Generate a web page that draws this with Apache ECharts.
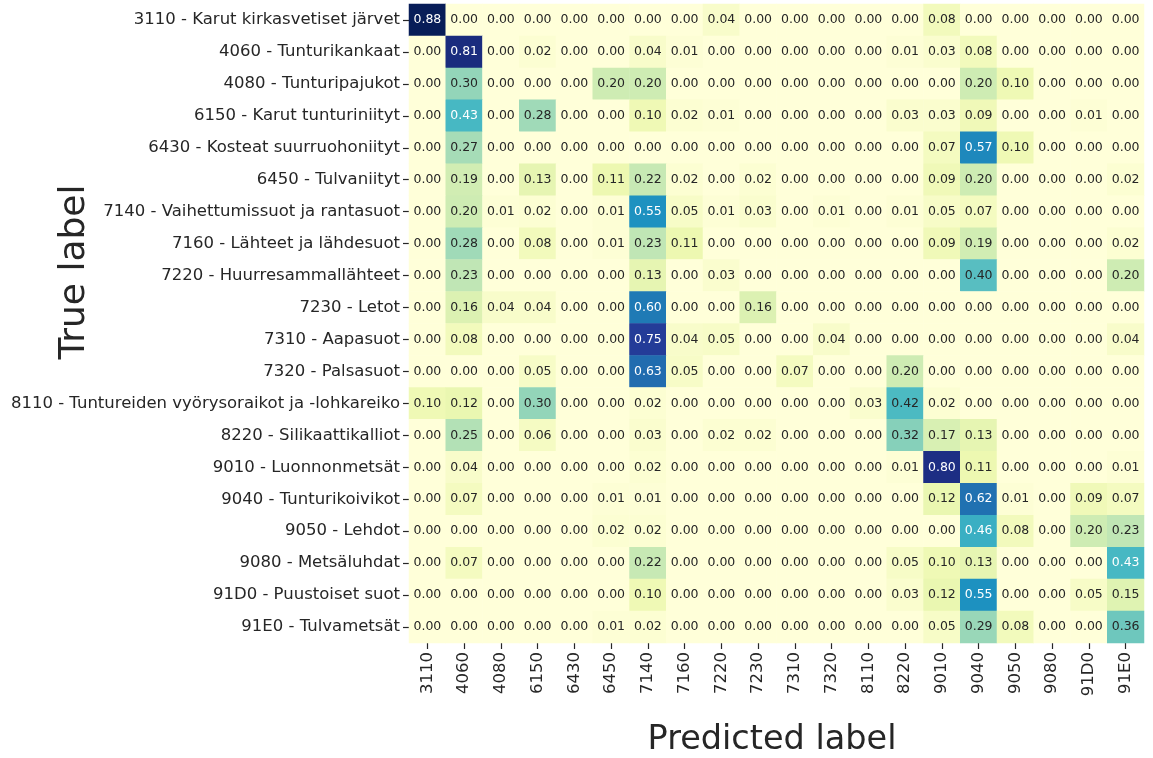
<!DOCTYPE html>
<html>
<head>
<meta charset="utf-8">
<script src="https://cdn.jsdelivr.net/npm/echarts@6/dist/echarts.min.js"></script>
<style>
  html, body { margin: 0; padding: 0; background: #fff; }
  #chart { width: 1153px; height: 758px; }
</style>
</head>
<body>
<div id="chart"></div>
<script>
// Predicted class codes (columns)
const predictedLabels = ['3110','4060','4080','6150','6430','6450','7140','7160','7220','7230',
                         '7310','7320','8110','8220','9010','9040','9050','9080','91D0','91E0'];

// True habitat classes (rows)
const trueLabels = [
  '3110 - Karut kirkasvetiset järvet',
  '4060 - Tunturikankaat',
  '4080 - Tunturipajukot',
  '6150 - Karut tunturiniityt',
  '6430 - Kosteat suurruohoniityt',
  '6450 - Tulvaniityt',
  '7140 - Vaihettumissuot ja rantasuot',
  '7160 - Lähteet ja lähdesuot',
  '7220 - Huurresammallähteet',
  '7230 - Letot',
  '7310 - Aapasuot',
  '7320 - Palsasuot',
  '8110 - Tuntureiden vyörysoraikot ja -lohkareiko',
  '8220 - Silikaattikalliot',
  '9010 - Luonnonmetsät',
  '9040 - Tunturikoivikot',
  '9050 - Lehdot',
  '9080 - Metsäluhdat',
  '91D0 - Puustoiset suot',
  '91E0 - Tulvametsät'
];

// Row-normalised confusion matrix, one array per true class
const row3110 = [0.88,0.00,0.00,0.00,0.00,0.00,0.00,0.00,0.04,0.00,0.00,0.00,0.00,0.00,0.08,0.00,0.00,0.00,0.00,0.00];
const row4060 = [0.00,0.81,0.00,0.02,0.00,0.00,0.04,0.01,0.00,0.00,0.00,0.00,0.00,0.01,0.03,0.08,0.00,0.00,0.00,0.00];
const row4080 = [0.00,0.30,0.00,0.00,0.00,0.20,0.20,0.00,0.00,0.00,0.00,0.00,0.00,0.00,0.00,0.20,0.10,0.00,0.00,0.00];
const row6150 = [0.00,0.43,0.00,0.28,0.00,0.00,0.10,0.02,0.01,0.00,0.00,0.00,0.00,0.03,0.03,0.09,0.00,0.00,0.01,0.00];
const row6430 = [0.00,0.27,0.00,0.00,0.00,0.00,0.00,0.00,0.00,0.00,0.00,0.00,0.00,0.00,0.07,0.57,0.10,0.00,0.00,0.00];
const row6450 = [0.00,0.19,0.00,0.13,0.00,0.11,0.22,0.02,0.00,0.02,0.00,0.00,0.00,0.00,0.09,0.20,0.00,0.00,0.00,0.02];
const row7140 = [0.00,0.20,0.01,0.02,0.00,0.01,0.55,0.05,0.01,0.03,0.00,0.01,0.00,0.01,0.05,0.07,0.00,0.00,0.00,0.00];
const row7160 = [0.00,0.28,0.00,0.08,0.00,0.01,0.23,0.11,0.00,0.00,0.00,0.00,0.00,0.00,0.09,0.19,0.00,0.00,0.00,0.02];
const row7220 = [0.00,0.23,0.00,0.00,0.00,0.00,0.13,0.00,0.03,0.00,0.00,0.00,0.00,0.00,0.00,0.40,0.00,0.00,0.00,0.20];
const row7230 = [0.00,0.16,0.04,0.04,0.00,0.00,0.60,0.00,0.00,0.16,0.00,0.00,0.00,0.00,0.00,0.00,0.00,0.00,0.00,0.00];
const row7310 = [0.00,0.08,0.00,0.00,0.00,0.00,0.75,0.04,0.05,0.00,0.00,0.04,0.00,0.00,0.00,0.00,0.00,0.00,0.00,0.04];
const row7320 = [0.00,0.00,0.00,0.05,0.00,0.00,0.63,0.05,0.00,0.00,0.07,0.00,0.00,0.20,0.00,0.00,0.00,0.00,0.00,0.00];
const row8110 = [0.10,0.12,0.00,0.30,0.00,0.00,0.02,0.00,0.00,0.00,0.00,0.00,0.03,0.42,0.02,0.00,0.00,0.00,0.00,0.00];
const row8220 = [0.00,0.25,0.00,0.06,0.00,0.00,0.03,0.00,0.02,0.02,0.00,0.00,0.00,0.32,0.17,0.13,0.00,0.00,0.00,0.00];
const row9010 = [0.00,0.04,0.00,0.00,0.00,0.00,0.02,0.00,0.00,0.00,0.00,0.00,0.00,0.01,0.80,0.11,0.00,0.00,0.00,0.01];
const row9040 = [0.00,0.07,0.00,0.00,0.00,0.01,0.01,0.00,0.00,0.00,0.00,0.00,0.00,0.00,0.12,0.62,0.01,0.00,0.09,0.07];
const row9050 = [0.00,0.00,0.00,0.00,0.00,0.02,0.02,0.00,0.00,0.00,0.00,0.00,0.00,0.00,0.00,0.46,0.08,0.00,0.20,0.23];
const row9080 = [0.00,0.07,0.00,0.00,0.00,0.00,0.22,0.00,0.00,0.00,0.00,0.00,0.00,0.05,0.10,0.13,0.00,0.00,0.00,0.43];
const row91D0 = [0.00,0.00,0.00,0.00,0.00,0.00,0.10,0.00,0.00,0.00,0.00,0.00,0.00,0.03,0.12,0.55,0.00,0.00,0.05,0.15];
const row91E0 = [0.00,0.00,0.00,0.00,0.00,0.01,0.02,0.00,0.00,0.00,0.00,0.00,0.00,0.00,0.05,0.29,0.08,0.00,0.00,0.36];

const matrix = [row3110,row4060,row4080,row6150,row6430,row6450,row7140,row7160,row7220,row7230,
                row7310,row7320,row8110,row8220,row9010,row9040,row9050,row9080,row91D0,row91E0];

// YlGnBu colour ramp
const ylGnBu = ['#ffffd9','#edf8b1','#c7e9b4','#7fcdbb','#41b6c4','#1d91c0','#225ea8','#253494','#081d58'];

let vmax = 0;
matrix.forEach(r => r.forEach(v => { if (v > vmax) vmax = v; }));

// Cell annotations switch to white on the darker part of the ramp
const cells = [];
matrix.forEach((r, i) => r.forEach((v, j) => {
  cells.push({
    value: [j, i, v],
    label: { color: v > 0.425 * (vmax / 0.88) ? '#ffffff' : '#262626' }
  });
}));

const FONT = 'DejaVu Sans';
const chart = echarts.init(document.getElementById('chart'), null, { renderer: 'canvas' });

chart.setOption({
  backgroundColor: '#ffffff',
  animation: false,
  grid: { left: 409, top: 4, width: 735, height: 639, containLabel: false },
  xAxis: {
    type: 'category',
    data: predictedLabels,
    axisLine: { show: false },
    axisTick: { show: true, alignWithLabel: true, length: 6, lineStyle: { color: '#262626', width: 1.2 } },
    axisLabel: { rotate: 90, fontFamily: FONT, fontSize: 16.5, color: '#262626', margin: 9 },
    splitLine: { show: false }
  },
  yAxis: {
    type: 'category',
    data: trueLabels,
    inverse: true,
    axisLine: { show: false },
    axisTick: { show: true, alignWithLabel: true, length: 6, lineStyle: { color: '#262626', width: 1.2 } },
    axisLabel: { fontFamily: FONT, fontSize: 16.5, color: '#262626', margin: 9 },
    splitLine: { show: false }
  },
  visualMap: {
    show: false,
    type: 'continuous',
    min: 0,
    max: vmax,
    dimension: 2,
    inRange: { color: ylGnBu }
  },
  series: [{
    type: 'heatmap',
    data: cells,
    itemStyle: { borderWidth: 0 },
    label: {
      show: true,
      fontFamily: FONT,
      fontSize: 12.5,
      formatter: p => p.value[2].toFixed(2)
    },
    emphasis: { disabled: true }
  }],
  graphic: [
    {
      type: 'text',
      x: 772,
      y: 740,
      style: { text: 'Predicted label', fontFamily: FONT, fontSize: 33.5, fill: '#262626', textAlign: 'center', textVerticalAlign: 'middle' }
    },
    {
      type: 'text',
      x: 75,
      y: 272,
      rotation: Math.PI / 2,
      style: { text: 'True label', fontFamily: FONT, fontSize: 36, fill: '#262626', textAlign: 'center', textVerticalAlign: 'middle' }
    }
  ]
});
</script>
</body>
</html>
